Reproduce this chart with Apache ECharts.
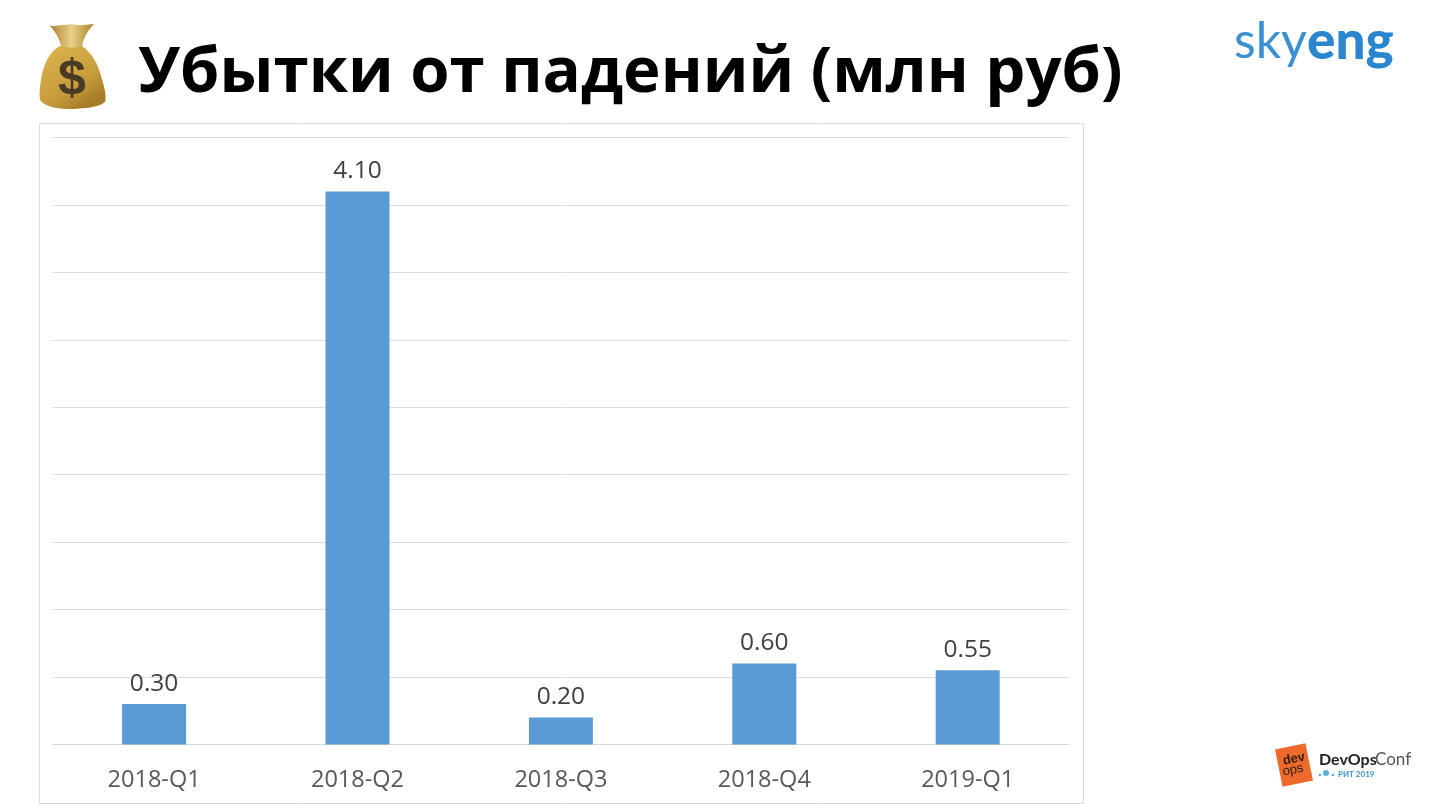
<!DOCTYPE html>
<html><head><meta charset="utf-8">
<style>html,body{margin:0;padding:0;background:#fff}#c{width:1429px;height:804px}</style>
<script src="https://cdn.jsdelivr.net/npm/echarts@6/dist/echarts.min.js"></script></head>
<body><div id="c"></div>
<script>
const titleText = 'Убытки от падений (млн руб)';
const categories = ['2018-Q1','2018-Q2','2018-Q3','2018-Q4','2019-Q1'];
const losses = [0.30,4.10,0.20,0.60,0.55];
const chart = echarts.init(document.getElementById('c'),null,{renderer:'canvas'});
const bagBody = 'M20,22 C10,27 5,38 2,50 C0,60 -1,70 0,76 C6,84 20,85 33,85 C44,84 58,84 65,78 C67,72 64,62 61,52 C58,40 52,29 42,22 Z';
const bagNeck = 'M9,1 C14,4 20,0 26,1 C32,-1 38,2 44,1 C47,1 51,0 54,0 C49,5 44,12 42,22 C35,24 28,24 21,22 C19,13 14,6 9,1 Z';
echarts.graphic.registerShape('bagBody', echarts.graphic.extendPath(bagBody,{}));
echarts.graphic.registerShape('bagNeck', echarts.graphic.extendPath(bagNeck,{}));
chart.setOption({
  animation:false,
  backgroundColor:'#ffffff',
  title:{text:titleText,left:138,top:35,padding:0,textStyle:{fontFamily:'Open Sans',fontWeight:'bold',fontSize:63.5,color:'#000',lineHeight:78}},
  grid:{left:52.4,right:359.6,top:137.5,bottom:59.5},
  xAxis:{type:'category',data:categories,
    axisLine:{lineStyle:{color:'#d9d9d9',width:1}},axisTick:{show:false},
    axisLabel:{color:'#595959',fontFamily:'Open Sans',fontSize:23.5,margin:24}},
  yAxis:{type:'value',min:0,max:4.5,interval:0.5,axisLabel:{show:false},axisLine:{show:false},axisTick:{show:false},
    splitLine:{lineStyle:{color:'#dedede',width:1}}},
  series:[{type:'bar',data:losses,barWidth:64,itemStyle:{color:'#5b9bd5'},
    label:{show:true,position:'top',distance:8,color:'#404040',fontFamily:'Open Sans',fontSize:24.5,formatter:p=>p.value.toFixed(2)}}],
  graphic:[
    {type:'rect',z:-1,shape:{x:39.5,y:123.5,width:1044,height:680},style:{fill:'#fff',stroke:'#dcdcdc',lineWidth:1}},
    {type:'group',x:40,y:24,children:[
      {type:'bagBody',style:{fill:{type:'linear',x:0,y:0,x2:0.6,y2:1,colorStops:[{offset:0,color:'#dcb64f'},{offset:0.7,color:'#c89c3c'},{offset:1,color:'#a77d2a'}]}}},
      {type:'bagNeck',style:{fill:{type:'linear',x:0,y:0,x2:1,y2:0,colorStops:[{offset:0,color:'#a8802c'},{offset:0.5,color:'#ead08a'},{offset:1,color:'#a8802c'}]}}},
      {type:'text',x:32,y:56,style:{text:'$',fontFamily:'Liberation Sans',fontWeight:'bold',fontSize:50,fill:'#4a3a24',align:'center',verticalAlign:'middle'}}
    ]},
    {type:'text',x:1234,y:42,style:{text:'sky',fontFamily:'Lato',fontSize:50,fill:'#3a90d0',verticalAlign:'middle'}},
    {type:'text',x:1307,y:42,style:{text:'eng',fontFamily:'Lato',fontWeight:900,fontSize:53,fill:'#2a86cf',verticalAlign:'middle'}},
    {type:'rect',rotation:0.2,x:1294,y:765,shape:{x:-15.5,y:-19,width:31,height:38},style:{fill:'#ee6a2c'}},
    {type:'text',rotation:0.2,x:1294,y:759,style:{text:'dev',fontFamily:'Liberation Sans',fontWeight:'bold',fontSize:13,fill:'#33210f',align:'center',verticalAlign:'middle'}},
    {type:'text',rotation:0.2,x:1293,y:770,style:{text:'ops',fontFamily:'Liberation Sans',fontSize:13,fill:'#33210f',align:'center',verticalAlign:'middle'}},
    {type:'text',x:1319,y:760,style:{text:'DevOps',fontFamily:'Lato',fontWeight:'bold',fontSize:16,fill:'#222',verticalAlign:'middle'}},
    {type:'text',x:1375,y:760,style:{text:'Conf',fontFamily:'Lato',fontSize:17,fill:'#555',verticalAlign:'middle'}},
    {type:'text',x:1338,y:774,style:{text:'РИТ 2019',fontFamily:'Lato',fontWeight:'bold',fontSize:8,fill:'#3a97c9',verticalAlign:'middle'}},
    {type:'circle',shape:{cx:1326,cy:773,r:3},style:{fill:'#5aaed8'}},
    {type:'circle',shape:{cx:1320,cy:775,r:1.3},style:{fill:'#5aaed8'}},
    {type:'circle',shape:{cx:1333,cy:775,r:1.3},style:{fill:'#5aaed8'}}
  ]
});
</script></body></html>
